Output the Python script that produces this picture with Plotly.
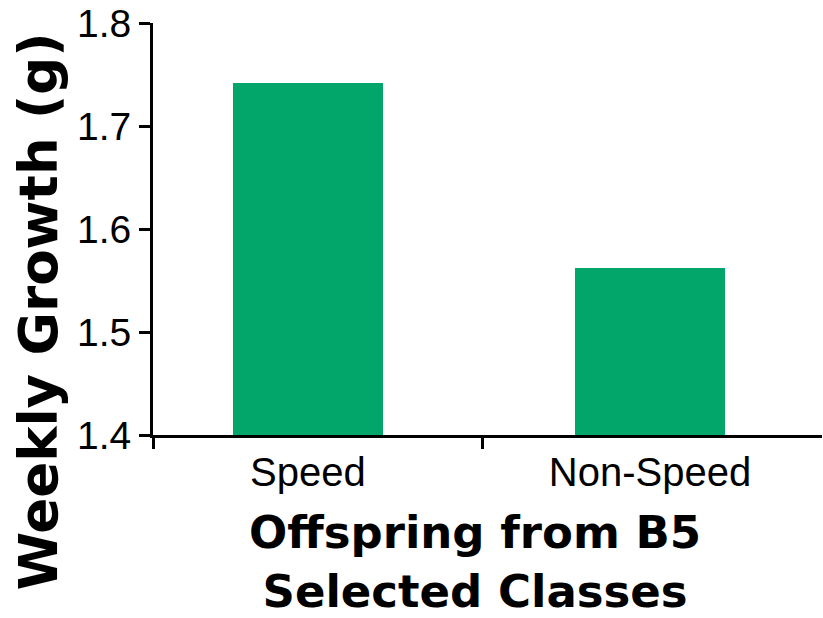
import plotly.graph_objects as go

categories = ["Speed", "Non-Speed"]
weekly_growth = [1.742, 1.562]
y_ticks = [1.4, 1.5, 1.6, 1.7, 1.8]
y_tick_labels = ["1.4", "1.5", "1.6", "1.7", "1.8"]
x_title = "Offspring from B5<br>Selected Classes"
y_title = "Weekly Growth (g)"

x_pos = list(range(len(categories)))
x_range = [-0.453, 1.503]

fig = go.Figure(
    go.Bar(
        x=x_pos,
        y=weekly_growth,
        width=0.44,
        marker=dict(color="#02A66B", line=dict(width=0)),
    )
)

fig.update_layout(
    width=823,
    height=618,
    margin=dict(l=153, r=1, t=23, b=183, autoexpand=False),
    plot_bgcolor="white",
    paper_bgcolor="white",
    showlegend=False,
    bargap=0,
)

fig.update_xaxes(
    range=x_range,
    tickvals=x_pos,
    ticktext=categories,
    ticks="",
    automargin=False,
    tickfont=dict(family="Liberation Sans, Arial", size=40, color="black"),
    showline=True,
    linecolor="black",
    linewidth=3,
    showgrid=False,
    zeroline=False,
    minor=dict(tickvals=[x_range[0], 0.51], ticks="outside", ticklen=11, tickwidth=3, tickcolor="black", showgrid=False),
)

fig.update_yaxes(
    range=[1.4, 1.8],
    tickvals=y_ticks,
    ticktext=y_tick_labels,
    ticks="outside",
    ticklen=11,
    tickwidth=3,
    tickcolor="black",
    automargin=False,
    tickfont=dict(family="Liberation Sans, Arial", size=39, color="black"),
    showline=True,
    linecolor="black",
    linewidth=3,
    showgrid=False,
    zeroline=False,
)

title_font = dict(family="DejaVu Sans, Lato", color="black", weight="bold")

fig.add_annotation(
    text=x_title, xref="paper", yref="paper", x=0.481, y=-0.168,
    xanchor="center", yanchor="top", showarrow=False, align="center",
    font=dict(size=45, **title_font),
)
fig.add_annotation(
    text=y_title, xref="paper", yref="paper", x=-0.172, y=0.30,
    xanchor="center", yanchor="middle", showarrow=False, textangle=-90,
    font=dict(size=53, **title_font),
)

fig.write_html(
    "out.html",
    config={"displayModeBar": False, "staticPlot": True},
    post_script="document.body.style.margin='0';document.body.style.overflow='hidden';",
)
